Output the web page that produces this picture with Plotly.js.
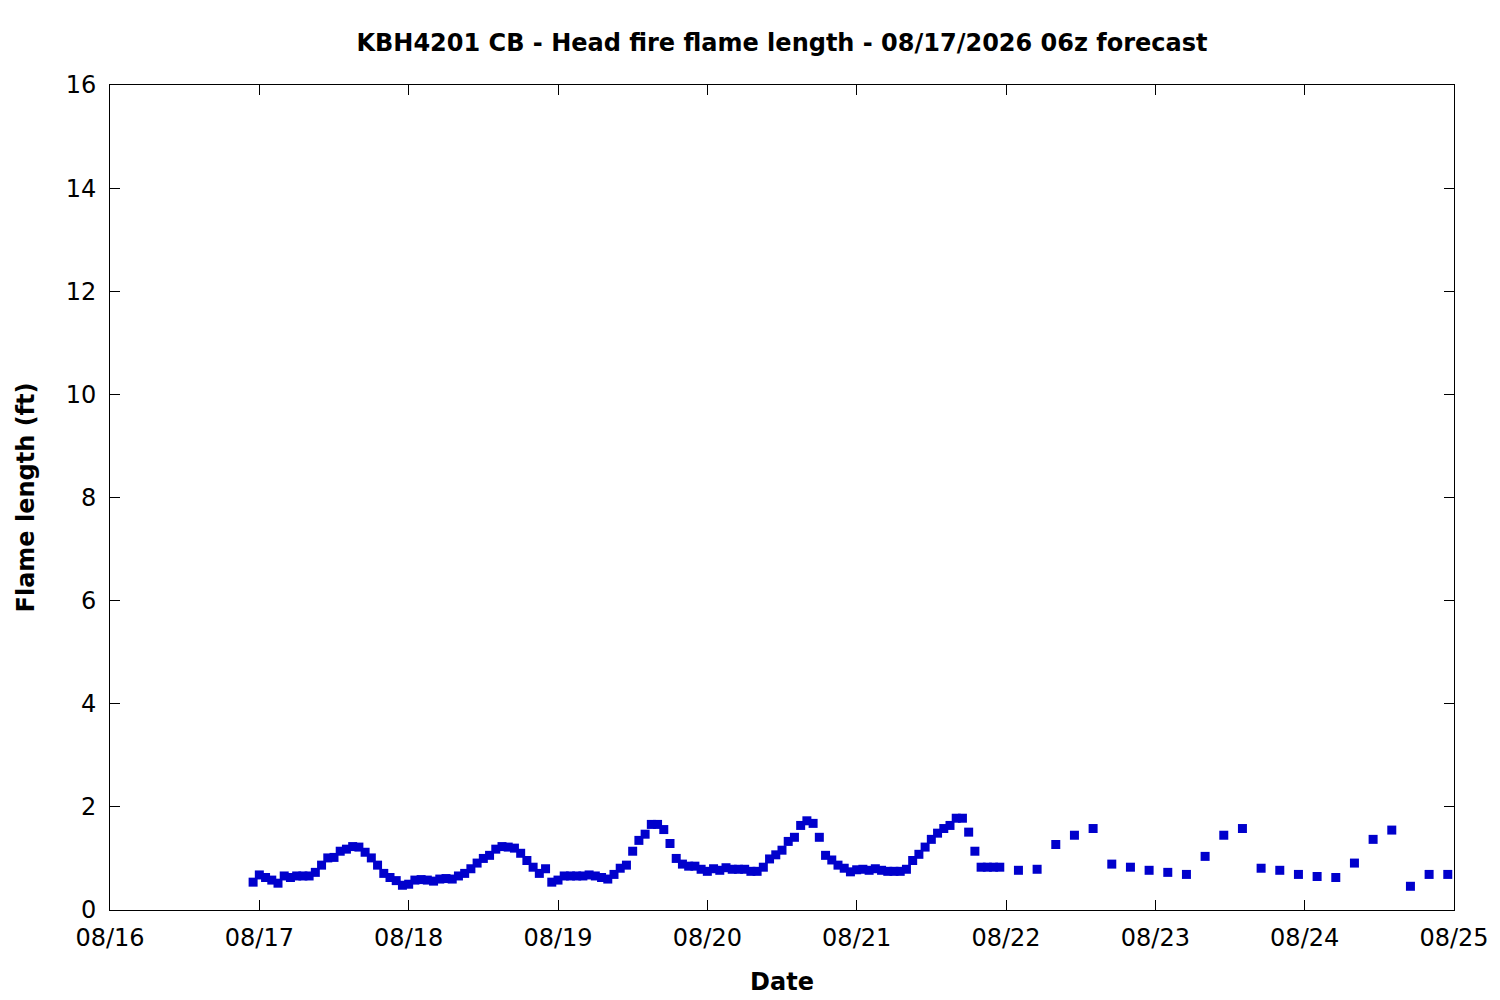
<!DOCTYPE html>
<html>
<head>
<meta charset="utf-8">
<script src="https://cdn.plot.ly/plotly-3.0.1.min.js"></script>
<style>html,body{margin:0;padding:0;background:#fff;}#chart{width:1500px;height:1000px;}</style>
</head>
<body>
<div id="chart"></div>
<script>
// Hourly series: starts 2026-08-16 23:00, one value per hour
const hourlyStart = '2026-08-16T23:00:00Z';
const hourlyValues = [
0.54,0.68,0.63,0.58,0.52,0.66,0.63,0.66,0.66,0.66,0.73,0.87,1.01,1.02,1.14,1.18,1.23,1.22,1.12,1.01,0.87,0.71,0.63,0.57,
0.48,0.50,0.58,0.59,0.58,0.56,0.60,0.61,0.60,0.66,0.71,0.80,0.91,1.00,1.06,1.18,1.23,1.22,1.20,1.10,0.96,0.83,0.71,0.80,
0.54,0.58,0.66,0.66,0.66,0.66,0.68,0.66,0.63,0.60,0.69,0.81,0.87,1.14,1.35,1.47,1.66,1.66,1.56,1.29,1.00,0.89,0.85,0.85,
0.79,0.75,0.80,0.77,0.82,0.79,0.79,0.79,0.75,0.75,0.83,0.99,1.07,1.16,1.33,1.41,1.64,1.73,1.68,1.41,1.06,0.97,0.87,0.81,
0.74,0.78,0.79,0.77,0.80,0.77,0.75,0.75,0.75,0.79,0.96,1.08,1.22,1.37,1.49,1.58,1.64,1.78,1.78,1.51,1.14,0.83,0.83,0.83,
0.83
];
// 3-hourly series: starts 2026-08-22 02:00
const threeHourlyStart = '2026-08-22T02:00:00Z';
const threeHourlyValues = [
0.77,0.79,1.27,1.45,1.58,0.89,0.83,0.77,0.73,0.69,1.04,1.45,1.58,0.81,0.77,0.69,0.65,0.63,0.91,1.37,1.55,0.46,0.69,0.69
];
const xTickVals = ['2026-08-16','2026-08-17','2026-08-18','2026-08-19','2026-08-20','2026-08-21','2026-08-22','2026-08-23','2026-08-24','2026-08-25'];
const xTickText = ['08/16','08/17','08/18','08/19','08/20','08/21','08/22','08/23','08/24','08/25'];
const yTickVals = [0,2,4,6,8,10,12,14,16];

function timesFrom(start, stepHours, n){
  const t0 = Date.parse(start);
  const out = [];
  for(let i=0;i<n;i++){
    const d = new Date(t0 + i*stepHours*3600000);
    out.push(d.toISOString().slice(0,16).replace('T',' '));
  }
  return out;
}
const xTimes = timesFrom(hourlyStart,1,hourlyValues.length).concat(timesFrom(threeHourlyStart,3,threeHourlyValues.length));
const yVals = hourlyValues.concat(threeHourlyValues);

const font = 'DejaVu Sans, sans-serif';
const fs = 24;
const trace = {
  x: xTimes, y: yVals, type:'scatter', mode:'markers',
  marker:{symbol:'square', size:9, color:'#0000cc', line:{width:0}},
  hoverinfo:'x+y'
};
const layout = {
  width:1500, height:1000,
  paper_bgcolor:'#fff', plot_bgcolor:'#fff',
  margin:{l:110, r:46, t:85, b:90},
  showlegend:false,
  font:{family:font, size:fs, color:'#000'},
  title:{text:'<b>KBH4201 CB - Head fire flame length - 08/17/2026 06z forecast</b>',
    font:{family:font, size:fs, color:'#000'}, x:0.5, xref:'paper', xanchor:'center',
    y:1-43/1000, yref:'container', yanchor:'middle'},
  xaxis:{type:'date', range:['2026-08-16','2026-08-25'], tickvals:xTickVals, ticktext:xTickText,
    ticks:'inside', ticklen:10, tickwidth:1, tickcolor:'#000', mirror:'ticks', showline:true, linecolor:'#000', linewidth:1,
    showgrid:false, zeroline:false, tickfont:{family:font,size:fs,color:'#000'}, ticklabelstandoff:6,
    title:{text:'<b>Date</b>', font:{family:font,size:fs,color:'#000'}, standoff:22}},
  yaxis:{range:[0,16], tickvals:yTickVals, ticks:'inside', ticklen:10, tickwidth:1, tickcolor:'#000',
    mirror:'ticks', showline:true, linecolor:'#000', linewidth:1, showgrid:false, zeroline:false,
    tickfont:{family:font,size:fs,color:'#000'}, ticklabelstandoff:8,
    title:{text:'<b>Flame length (ft)</b>', font:{family:font,size:fs,color:'#000'}, standoff:24}}
};
Plotly.newPlot('chart',[trace],layout,{displayModeBar:false, staticPlot:true});
</script>
</body>
</html>
